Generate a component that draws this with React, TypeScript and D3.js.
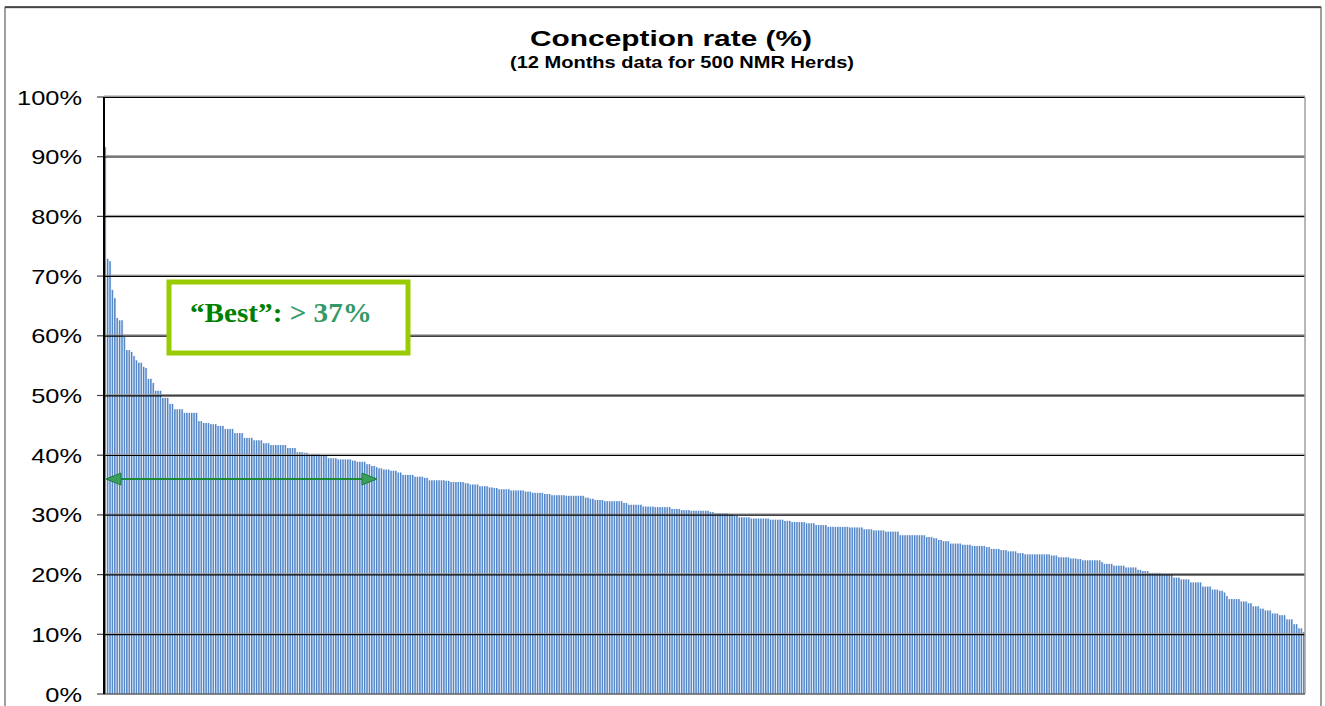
import React from "react";
import * as d3 from "d3";

// Plateau values (conception rate %, herds sorted descending) and how many herds share each
const runValues = [
  91.6, 72.9, 72.5, 67.7, 66.3, 63.0, 62.6, 59.8, 57.6, 57.3, 56.6, 55.9, 55.5, 54.8, 54.6, 52.8, 52.1,
  50.8, 49.6, 48.6, 47.7, 47.1, 45.7, 45.4, 45.2, 44.9, 44.4, 43.7, 42.9, 42.5, 42.0, 41.7, 41.2, 40.5,
  40.4, 40.2, 39.9, 39.5, 39.3, 39.1, 38.9, 38.5, 38.2, 38.0, 37.8, 37.6, 37.4, 37.1, 36.7, 36.4, 36.2,
  35.8, 35.7, 35.5, 35.3, 35.1, 34.8, 34.6, 34.5, 34.3, 34.1, 33.9, 33.7, 33.5, 33.3, 33.2, 32.9, 32.7,
  32.5, 32.3, 32.0, 31.7, 31.4, 31.3, 31.0, 30.8, 30.7, 30.5, 30.3, 30.1, 29.9, 29.6, 29.4, 29.2, 29.0,
  28.8, 28.6, 28.3, 28.0, 27.9, 27.6, 27.4, 27.2, 26.6, 26.3, 26.1, 25.8, 25.6, 25.2, 25.0, 24.8, 24.6,
  24.3, 24.1, 23.9, 23.6, 23.4, 23.2, 22.9, 22.7, 22.6, 22.4, 22.1, 21.8, 21.5, 21.2, 20.8, 20.6, 20.3,
  20.0, 19.5, 19.2, 18.7, 18.0, 17.5, 17.3, 17.0, 16.4, 15.9, 15.5, 15.2, 14.7, 14.3, 14.0, 13.5, 13.2,
  12.5, 11.7, 11.0, 10.4,
];
const runCounts = [
  1, 1, 1, 1, 1, 1, 2, 1, 2, 1, 1, 1, 2, 1, 1, 2, 1,
  3, 3, 2, 4, 6, 2, 3, 3, 3, 4, 4, 4, 4, 3, 7, 4, 3,
  2, 5, 3, 4, 6, 2, 4, 2, 2, 1, 2, 3, 3, 2, 5, 4, 2,
  7, 2, 6, 2, 4, 4, 2, 2, 5, 6, 3, 5, 3, 6, 8, 2, 2,
  4, 8, 2, 6, 5, 7, 4, 4, 8, 2, 6, 2, 2, 5, 8, 6, 3,
  6, 4, 5, 9, 6, 4, 5, 6, 11, 3, 2, 2, 3, 5, 4, 6, 2,
  4, 3, 4, 3, 11, 3, 5, 3, 2, 8, 1, 4, 5, 5, 2, 3, 5,
  5, 3, 4, 5, 4, 3, 2, 1, 1, 5, 3, 2, 3, 2, 3, 3, 3,
  3, 2, 2, 1,
];
const conceptionRates: number[] = runValues.flatMap((v, i) => Array(runCounts[i]).fill(v));

const yTicks = [0, 10, 20, 30, 40, 50, 60, 70, 80, 90, 100];
const titleText = "Conception rate (%)";
const subtitleText = "(12 Months data for 500 NMR Herds)";
const bestLabel = "\u201CBest\u201D:";
const bestValue = "> 37%";

const W = 1325;
const H = 706;
const plot = { left: 104, right: 1305, top: 97, bottom: 694 };

export default function App() {
  const y = d3.scaleLinear().domain([0, 100]).range([plot.bottom, plot.top]);
  const x = d3
    .scaleBand<number>()
    .domain(conceptionRates.map((_, i) => i))
    .range([plot.left + 0.5, plot.right])
    .paddingInner(0.2);
  const bw = x.bandwidth();

  return (
    <svg
      width={W}
      height={H}
      style={{ position: "absolute", left: 0, top: 0, background: "#fff" }}
      fontFamily="'Liberation Sans', Arial, sans-serif"
    >
      <defs>
        <linearGradient id="barGrad" x1="0" x2="1" y1="0" y2="0">
          <stop offset="0" stopColor="#3f74ba" />
          <stop offset="0.5" stopColor="#5b8dcd" />
          <stop offset="1" stopColor="#d0e0f4" />
        </linearGradient>
      </defs>
      <rect x={0} y={0} width={W} height={H} fill="#fff" />
      {/* outer chart frame */}
      <rect x={5} y={7.5} width={1316} height={740} fill="none" stroke="#808080" strokeWidth={1.5} />
      <line x1={5} x2={1321} y1={7} y2={7} stroke="#333" strokeWidth={1.5} />

      {/* titles */}
      <text
        x={671}
        y={46}
        textAnchor="middle"
        fontWeight="bold"
        fontSize={22}
        textLength={282}
        lengthAdjust="spacingAndGlyphs"
        fill="#000"
      >
        {titleText}
      </text>
      <text
        x={682}
        y={68}
        textAnchor="middle"
        fontWeight="bold"
        fontSize={17}
        textLength={344}
        lengthAdjust="spacingAndGlyphs"
        fill="#000"
      >
        {subtitleText}
      </text>

      {/* bars */}
      <g>
        {conceptionRates.map((v, i) => (
          <rect
            key={i}
            x={x(i)}
            y={y(v)}
            width={bw}
            height={plot.bottom - y(v)}
            fill="url(#barGrad)"
          />
        ))}
      </g>

      {/* gridlines and ticks */}
      {yTicks.map((t) => (
        <g key={t}>
          {t > 0 && (
            <>
              <line x1={plot.left} x2={plot.right} y1={y(t) - 1} y2={y(t) - 1} stroke="#9a9a9a" strokeWidth={1} />
              <line x1={plot.left} x2={plot.right} y1={y(t) + 0.3} y2={y(t) + 0.3} stroke="#000" strokeWidth={1.2} />
            </>
          )}
          <line x1={97} x2={plot.left} y1={y(t)} y2={y(t)} stroke="#444" strokeWidth={1.2} />
          <text
            transform={`translate(82, ${y(t) + 7.5}) scale(1.21, 1)`}
            textAnchor="end"
            fontSize={21}
            fill="#000"
          >
            {t}%
          </text>
        </g>
      ))}

      {/* plot frame */}
      <line x1={plot.right} x2={plot.right} y1={plot.top} y2={plot.bottom} stroke="#a0a0a0" strokeWidth={1.5} />
      <line x1={plot.left} x2={plot.right} y1={plot.bottom} y2={plot.bottom} stroke="#606060" strokeWidth={1.5} />
      <line x1={plot.left} x2={plot.left} y1={plot.top} y2={plot.bottom} stroke="#000" strokeWidth={2} />

      {/* Best annotation box */}
      <rect x={169} y={282} width={239} height={71} fill="#fff" stroke="#99cc00" strokeWidth={5} />
      <text
        x={190}
        y={322}
        fontFamily="'Liberation Serif', 'Times New Roman', serif"
        fontWeight="bold"
        fontSize={28}
        textLength={182}
        lengthAdjust="spacingAndGlyphs"
      >
        <tspan fill="#008000">{bestLabel}</tspan>
        <tspan fill="#339966">{" " + bestValue}</tspan>
      </text>

      {/* double arrow */}
      <line x1={118} x2={365} y1={479} y2={479} stroke="#1c8a34" strokeWidth={2.2} />
      <polygon points="106,479 121,473 121,485" fill="#3a9f5c" stroke="#1e7d3c" strokeWidth={1} />
      <polygon points="377,479 362,473 362,485" fill="#3a9f5c" stroke="#1e7d3c" strokeWidth={1} />
    </svg>
  );
}
